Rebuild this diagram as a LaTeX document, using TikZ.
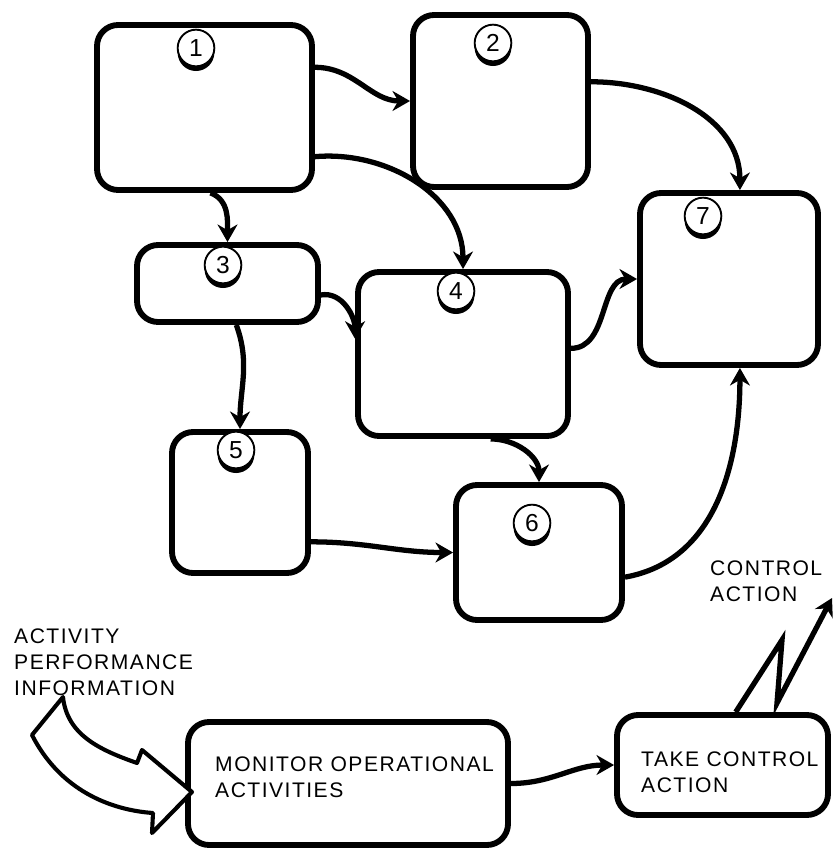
\documentclass[tikz,border=0pt]{standalone}
\usepackage{fontspec}
\usepackage{tikz}
\usetikzlibrary{arrows.meta,shadows}
\newfontfamily\diagfont{Liberation Sans}[LetterSpace=7]
\newfontfamily\numfont{Liberation Sans}
\tikzstyle{stepbox} = [draw=black, fill=white, line width=5pt, rectangle, rounded corners=18pt, inner sep=0pt]
\tikzstyle{numcirc} = [draw=black, fill=white, circle, line width=1.6pt, minimum size=1.1cm, inner sep=0pt, font=\numfont\fontsize{21}{21}\selectfont, drop shadow={shadow xshift=0pt, shadow yshift=-4pt, opacity=1, fill=black}]
\tikzstyle{flow} = [line width=4.5pt, -{Stealth[length=15pt,width=17pt]}]
\tikzstyle{caption} = [font=\diagfont\fontsize{18}{22}\selectfont, align=left, inner sep=0pt, anchor=north west]

\begin{document}
\begin{tikzpicture}[x=0.03cm, y=-0.03cm]
\useasboundingbox (0,0) rectangle (835,849);

\node[stepbox, minimum width=6.45cm, minimum height=4.95cm] (b1) at (204.5,107.5) {};
\node[stepbox, minimum width=5.25cm, minimum height=5.16cm] (b2) at (500.5,101) {};
\node[stepbox, minimum width=5.43cm, minimum height=2.31cm] (b3) at (227.5,283.5) {};
\node[stepbox, minimum width=6.3cm, minimum height=4.92cm] (b4) at (463,354) {};
\node[stepbox, minimum width=4.08cm, minimum height=4.23cm] (b5) at (240,502.5) {};
\node[stepbox, minimum width=4.98cm, minimum height=4.05cm] (b6) at (539,552.5) {};
\node[stepbox, minimum width=5.34cm, minimum height=5.16cm] (b7) at (729,279) {};
\node[stepbox, minimum width=9.6cm, minimum height=3.69cm] (mon) at (348,783.5) {};
\node[stepbox, minimum width=6.33cm, minimum height=3cm] (take) at (722.5,765) {};

\node[numcirc] (c1) at (196,48) {1};
\node[numcirc] (c2) at (493,43) {2};
\node[numcirc] (c3) at (223,265) {3};
\node[numcirc] (c4) at (456,291) {4};
\node[numcirc] (c5) at (236,450) {5};
\node[numcirc] (c6) at (532,523) {6};
\node[numcirc] (c7) at (703,216) {7};

\draw[flow] (b1.20) to[out=0, in=180] (b2.west);
\draw[flow] (b1.-24) to[out=5, in=90] (b4.north);
\draw[flow] (b1.-86) to[out=-20, in=90] (b3.north);
\draw[flow] (b2.12) to[out=0, in=90] (b7.83);
\draw[flow] (b3.-7) to[out=10, in=90] (b4.172);
\draw[flow] (b3.-78) to[out=-70, in=90] (b5.north);
\draw[flow] (b4.3) to[out=0, in=180] (b7.west);
\draw[flow] (b4.-72) to[out=0, in=90] (b6.north);
\draw[flow] (b5.-29) to[out=0, in=180] (b6.west);
\draw[flow] (b6.-16) to[out=10, in=-90] (b7.-83);
\draw[flow] (mon.east) to[out=0, in=180] (take.west);

\coordinate (ctrltip) at (832,598);
\draw[flow, line width=4.5pt, line join=miter] (take.76) -- (782,640) -- (777,703) -- (ctrltip);

\draw[line width=3.5pt, fill=white, line join=round] (63,697) -- (32,735)
  .. controls (60,790) and (110,810) .. (153,813) -- (152,833) -- (192,792)
  -- (142,750) -- (137,763) .. controls (100,750) and (67,735) .. cycle;

\node[caption] (info) at (14,629) {ACTIVITY\\PERFORMANCE\\INFORMATION};
\node[caption] (ctrl) at (710,561) {CONTROL\\ACTION};
\node[caption] (montext) at (215,757) {MONITOR OPERATIONAL\\ACTIVITIES};
\node[caption] (taketext) at (641,752) {TAKE CONTROL\\ACTION};
\end{tikzpicture}
\end{document}
